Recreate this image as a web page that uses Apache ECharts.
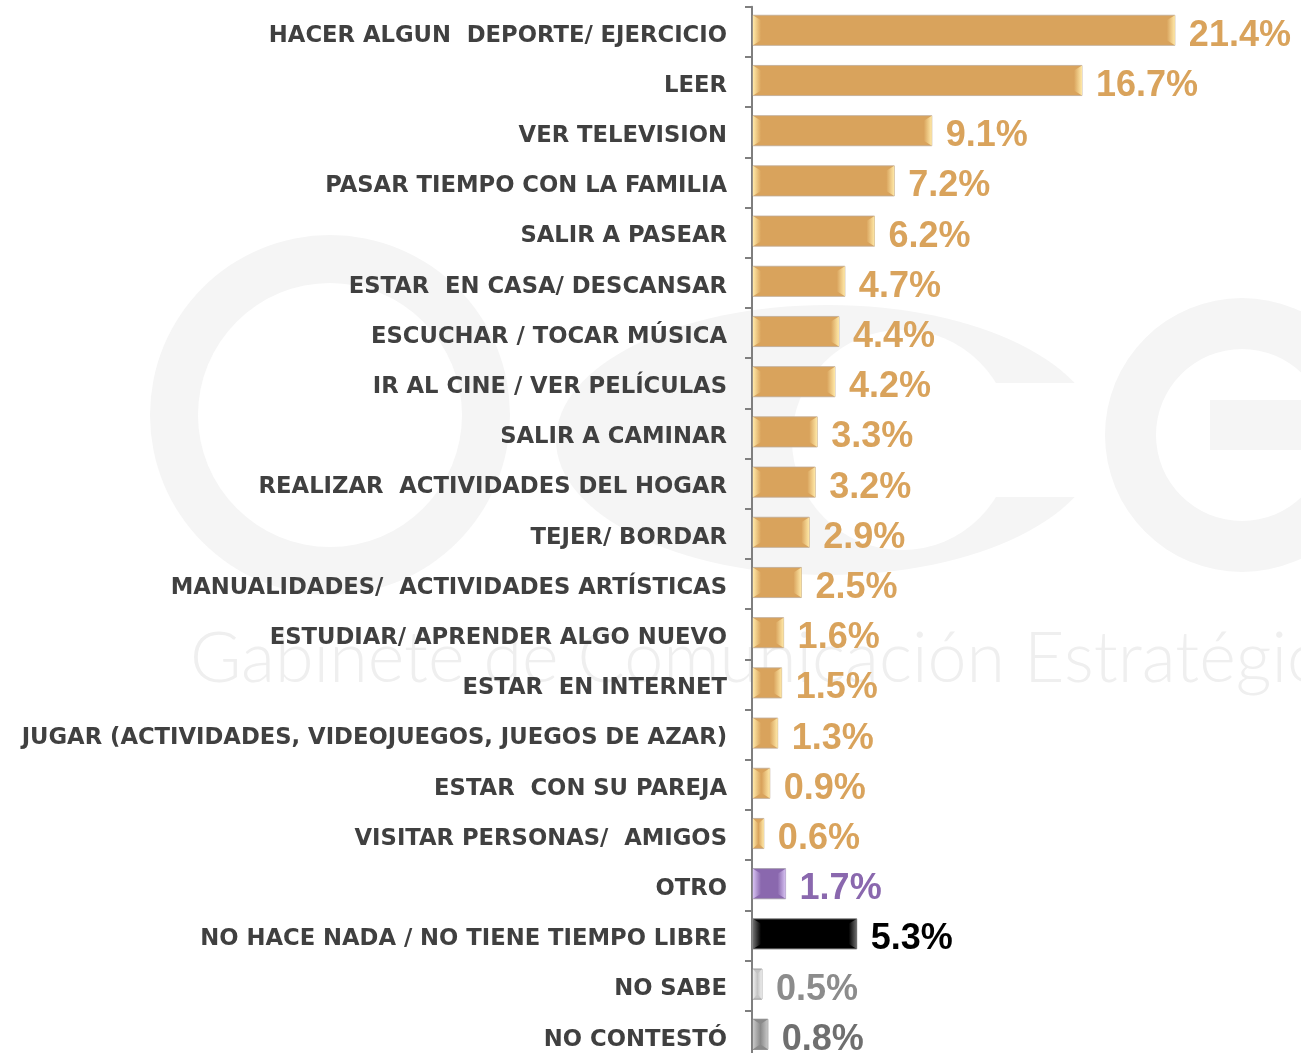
<!DOCTYPE html>
<html><head><meta charset="utf-8">
<script src="https://cdn.jsdelivr.net/npm/echarts@6/dist/echarts.min.js"></script>
<style>html,body{margin:0;padding:0;background:#fff}#c{width:1301px;height:1053px}</style>
</head><body><div id="c"></div>
<script>
var categories = [
  'HACER ALGUN  DEPORTE/ EJERCICIO','LEER','VER TELEVISION','PASAR TIEMPO CON LA FAMILIA',
  'SALIR A PASEAR','ESTAR  EN CASA/ DESCANSAR','ESCUCHAR / TOCAR MÚSICA','IR AL CINE / VER PELÍCULAS',
  'SALIR A CAMINAR','REALIZAR  ACTIVIDADES DEL HOGAR','TEJER/ BORDAR','MANUALIDADES/  ACTIVIDADES ARTÍSTICAS',
  'ESTUDIAR/ APRENDER ALGO NUEVO','ESTAR  EN INTERNET','JUGAR (ACTIVIDADES, VIDEOJUEGOS, JUEGOS DE AZAR)',
  'ESTAR  CON SU PAREJA','VISITAR PERSONAS/  AMIGOS','OTRO','NO HACE NADA / NO TIENE TIEMPO LIBRE','NO SABE','NO CONTESTÓ'
];
var values = [21.4,16.7,9.1,7.2,6.2,4.7,4.4,4.2,3.3,3.2,2.9,2.5,1.6,1.5,1.3,0.9,0.6,1.7,5.3,0.5,0.8];

var palettes = {
  gold:   {fill:'#D9A35C', light:'#FFE9A8', label:'#D9A35C', stroke:'rgba(190,170,150,0.8)'},
  purple: {fill:'#8A68AE', light:'#D7C2F2', label:'#8A68AE', stroke:'rgba(160,150,170,0.9)'},
  black:  {fill:'#000000', light:'#6E6E6E', label:'#000000', stroke:'#8a8a8a'},
  lgray:  {fill:'#C4C4C4', light:'#EEEEEE', label:'#8C8C8C', stroke:'#9a9a9a'},
  dgray:  {fill:'#8A8A8A', light:'#C8C8C8', label:'#6F6F6F', stroke:'#888'}
};
var special = {'OTRO':'purple','NO HACE NADA / NO TIENE TIEMPO LIBRE':'black','NO SABE':'lgray','NO CONTESTÓ':'dgray'};
function pal(i){ return palettes[special[categories[i]] || 'gold']; }

var data = values.map(function(v,i){ return [v, i]; });

function renderItem(params, api){
  var v = api.value(0), c = api.value(1);
  var p0 = api.coord([0, c]), p1 = api.coord([v, c]);
  var bh = api.size([0, 1])[1] * 0.6;
  var x0 = p0[0] + 1, x1 = p1[0], y = p0[1] - bh/2 - 1.5, w = x1 - x0;
  var P = pal(params.dataIndex);
  var b = Math.min(8, w/2), bv = 5;
  var children = [
    {type:'rect', shape:{x:x0, y:y, width:w, height:bh}, style:{fill:P.fill, stroke:P.stroke, lineWidth:1}},
    {type:'polygon', shape:{points:[[x0,y],[x0+b,y+bv],[x0+b,y+bh-bv],[x0,y+bh]]},
      style:{fill:new echarts.graphic.LinearGradient(0,0,1,0,[{offset:0,color:P.light},{offset:1,color:P.fill}])}},
    {type:'polygon', shape:{points:[[x1,y],[x1-b,y+bv],[x1-b,y+bh-bv],[x1,y+bh]]},
      style:{fill:new echarts.graphic.LinearGradient(0,0,1,0,[{offset:0,color:P.fill},{offset:1,color:P.light}])}},
    {type:'text', x:x1 + 14, y:p0[1] + 4, style:{text: v.toFixed(1) + '%', fill:P.label,
      font:'bold 36px "Liberation Sans", Arial, sans-serif', verticalAlign:'middle', align:'left'}}
  ];
  return {type:'group', children:children};
}

var wm = '#F5F5F5';
var chart = echarts.init(document.getElementById('c'));
chart.setOption({
  animation:false,
  backgroundColor:'#fff',
  graphic:[
    {type:'ring', z:-20, shape:{cx:330, cy:415, r:180, r0:132}, style:{fill:wm}},
    {type:'ellipse', z:-20, shape:{cx:828, cy:440, rx:272, ry:135}, style:{fill:wm}},
    {type:'circle', z:-19, shape:{cx:902, cy:440, r:110}, style:{fill:'#fff'}},
    {type:'rect', z:-19, shape:{x:990, y:383, width:114, height:114}, style:{fill:'#fff'}},
    {type:'ring', z:-18, shape:{cx:1242, cy:435, r:137, r0:86}, style:{fill:wm}},
    {type:'rect', z:-18, shape:{x:1210, y:400, width:100, height:50}, style:{fill:wm}},
    {type:'text', z:-17, left:190, top:624, style:{text:'Gabinete de Comunicación Estratégica', fill:'#EFEFEF',
      font:'300 70px Lato, "Open Sans", sans-serif'}}
  ],
  grid:{left:752, top:6.7, bottom:-7.9, right:55, containLabel:false, outerBoundsMode:'none'},
  xAxis:{type:'value', min:0, max:25, show:false},
  yAxis:{type:'category', data:categories, inverse:true,
    axisLine:{lineStyle:{color:'#7F7F7F', width:2}},
    axisTick:{show:true, length:7, lineStyle:{color:'#7F7F7F', width:2}},
    axisLabel:{margin:25, formatter:function(v){ return '{a|' + v + '}'; },
      rich:{a:{color:'#404040', fontSize:22.7, fontWeight:'bold', fontFamily:'"DejaVu Sans", sans-serif', padding:[8,0,0,0]}}}
  },
  series:[{type:'custom', renderItem:renderItem, data:data, encode:{x:0, y:1}, clip:false}]
});
</script></body></html>
